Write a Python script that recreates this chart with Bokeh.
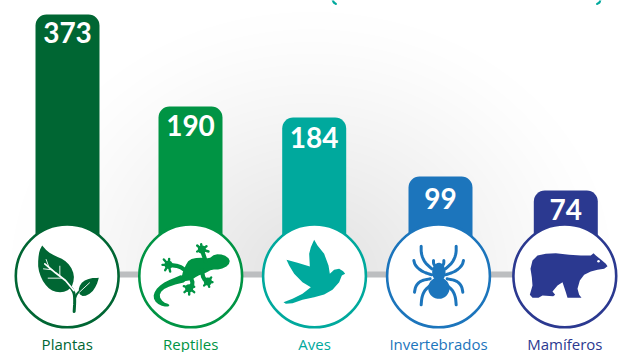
import numpy as np
from bokeh.plotting import figure
from bokeh.models import Range1d, ColumnDataSource
from bokeh.core.properties import value
from bokeh.embed import file_html
from bokeh.resources import INLINE

categories = ["Plantas", "Reptiles", "Aves", "Invertebrados", "Mamíferos"]
species = [373, 190, 184, 99, 74]
drawn_heights = [260, 168, 157, 98, 84]   # bar height above the baseline
colors = ["#006633", "#009444", "#00A99D", "#1C75BC", "#2B3990"]

BASE = 274
bar_x = [67, 190, 313.7, 440, 565.3]
ring_x = [66.7, 190.2, 314, 438, 564.3]
num_offset = [18, 18.5, 20, 21.5, 18.5]

p = figure(width=622, height=352, x_range=Range1d(0, 622), y_range=Range1d(352, 0),
           output_backend="svg", toolbar_location=None, min_border=0)
p.axis.visible = False
p.grid.visible = False
p.outline_line_color = None
p.background_fill_color = "white"
p.border_fill_color = "white"

# background glow above the baseline
W, H = 622, 274
xx, yy = np.meshgrid(np.arange(W) + 0.5, np.arange(H) + 0.5)
r = np.sqrt(((xx - 311) / 300) ** 2 + ((yy - 274) / 262) ** 2)
g = (255 - 30 * np.clip(1 - r, 0, 1) ** 1.25).astype(np.uint32)
img = (255 << 24) | (g << 16) | (g << 8) | g
p.image_rgba(image=[img.astype(np.uint32)], x=0, y=0, dw=W, dh=H)

# baseline
p.segment(x0=[ring_x[0]], x1=[ring_x[-1]], y0=[BASE], y1=[BASE], line_color="#bcbec0", line_width=6)

# bars
tops = [BASE - h for h in drawn_heights]
src = ColumnDataSource(dict(x=bar_x, top=tops, bottom=[BASE + 5] * 5, c=colors))
p.vbar(x="x", width=64, top="top", bottom="bottom", fill_color="c", line_color=None, border_radius=(11, 11, 0, 0), source=src)

# value labels
p.text(x=bar_x, y=[t + o for t, o in zip(tops, num_offset)], text=[str(v) for v in species],
       text_color="white", text_font=value("Lato"), text_font_style="bold", text_font_size="28px",
       text_align="center", text_baseline="middle")

# rings
p.circle(x=ring_x, y=[275.4] * 5, radius=51.4, fill_color="white", line_color=colors, line_width=2.6)

# category labels
p.text(x=ring_x, y=[343.5] * 5, text=categories, text_color=colors, text_font=value("Open Sans"),
       text_font_size="15px", text_align="center", text_baseline="middle")


def chaikin(pts, n=2, closed=False):
    pts = np.array(pts, float)
    for _ in range(n):
        a = pts if closed else pts[:-1]
        b = np.roll(pts, -1, axis=0) if closed else pts[1:]
        q = np.empty((2 * len(a), 2))
        q[0::2] = 0.75 * a + 0.25 * b
        q[1::2] = 0.25 * a + 0.75 * b
        pts = q if closed else np.vstack([pts[0], q, pts[-1]])
    return pts


def poly(origin, pts, color, smooth=0):
    pts = np.array(pts, float)
    if smooth:
        pts = chaikin(pts, smooth, closed=True)
    p.patch(origin[0] + pts[:, 0] / 3, origin[1] + pts[:, 1] / 3, fill_color=color, line_color=None)


def stroke(origin, pts, color, w, smooth=2):
    pts = chaikin(pts, smooth) if smooth else np.array(pts, float)
    p.line(origin[0] + pts[:, 0] / 3, origin[1] + pts[:, 1] / 3, line_color=color, line_width=w,
           line_cap="round", line_join="round")


# cropped ends of the title's brackets at the very top edge
stroke((0, 0), [(996, -3), (1000, 6), (1006, 10)], colors[2], 2.2, 0)
stroke((0, 0), [(1800, -3), (1797, 6), (1790, 10)], colors[2], 2.2, 0)

# leaf
o = (25, 235); c = colors[0]
poly(o, [(50, 30), (50, 30), (50, 30), (66, 48), (90, 62), (115, 72), (135, 92), (146, 118), (143, 145), (132, 162),
         (110, 171), (85, 168), (65, 155), (48, 130), (38, 100), (38, 70), (42, 45)], c, 1)
poly(o, [(220, 127), (220, 127), (195, 128), (172, 137), (160, 155), (160, 175), (175, 184), (198, 172), (213, 150)], c, 1)
stroke(o, [(130, 148), (146, 170), (148, 195), (146, 228)], c, 3.0)
stroke(o, [(148, 190), (155, 172), (178, 155)], c, 2.0)
stroke(o, [(58, 85), (90, 112), (120, 135), (145, 165)], "white", 1.8, 0)
for v in ([(62, 72), (72, 100)], [(103, 92), (103, 122)], [(68, 128), (108, 128)], [(54, 100), (80, 103)], [(162, 170), (192, 142)]):
    stroke(o, v, "white", 0.9, 0)

# gecko
o = (148, 235); c = colors[1]
poly(o, [(100, 118), (110, 92), (122, 72), (150, 66), (180, 70), (200, 56), (225, 57), (245, 72), (240, 90), (215, 102),
         (190, 102), (172, 112), (145, 122), (128, 134), (100, 138)], c, 1)
poly(o, [(105, 116), (70, 130), (40, 145), (20, 165), (14, 185), (24, 203), (45, 213), (62, 213), (62, 206), (44, 200),
         (32, 182), (40, 164), (68, 150), (118, 138)], c, 1)
legs_g = [[(112, 105), (92, 92), (60, 88)], [(125, 122), (134, 145), (122, 158)],
          [(172, 78), (165, 58), (160, 42)], [(160, 105), (165, 130), (178, 138)]]
for leg in legs_g:
    stroke(o, leg, c, 4.2, 1)
feet = [((60, 88), [(42, 88), (46, 72), (62, 70), (50, 104), (65, 108)]),
        ((122, 158), [(106, 152), (108, 170), (122, 177), (137, 170), (137, 154)]),
        ((160, 42), [(146, 30), (158, 26), (174, 32), (180, 48), (146, 48)]),
        ((178, 138), [(166, 128), (167, 150), (182, 154), (192, 140), (188, 126)])]
for ctr, toes in feet:
    p.scatter(x=[o[0] + ctr[0] / 3], y=[o[1] + ctr[1] / 3], size=8, color=c, line_color=None)
    for t in toes:
        stroke(o, [ctr, t], c, 2.4, 0)

# bird
o = (272, 230); c = colors[2]
poly(o, [(33, 215), (60, 205), (90, 190), (115, 170), (90, 155), (65, 130), (50, 105), (42, 88), (75, 97), (112, 108),
         (110, 70), (115, 50), (125, 28), (135, 45), (155, 70), (168, 105), (172, 130), (185, 118), (200, 115), (212, 122),
         (218, 130), (208, 135), (200, 155), (180, 178), (155, 192), (125, 200), (90, 208), (60, 218), (40, 220)], c)

# spider
o = (398, 235); c = colors[3]
mx = 120
legs = [[(100, 100), (78, 80), (68, 55), (68, 32)],
        [(100, 118), (70, 108), (50, 90), (46, 75)],
        [(95, 130), (68, 135), (52, 150), (48, 170)],
        [(95, 150), (78, 165), (70, 185), (68, 208)],
        [(105, 75), (105, 85), (110, 92)]]
for leg in legs:
    stroke(o, leg, c, 3.0)
    stroke(o, [(2 * mx - a + 1, b) for a, b in leg], c, 3.0)
t = np.linspace(0, 2 * np.pi, 60)
poly(o, np.c_[mx + 1 + 32 * np.cos(t), 158 + 32 * np.sin(t)], c)
poly(o, np.c_[mx + 1 + 20 * np.cos(t), 110 + 28 * np.sin(t)], c)

# bear
o = (522, 235); c = colors[4]
poly(o, [(255, 92), (245, 100), (225, 103), (205, 108), (185, 118), (172, 135), (165, 160), (170, 178), (177, 187),
         (135, 187), (130, 170), (120, 140), (105, 150), (90, 168), (98, 178), (92, 182), (60, 180), (48, 187), (30, 187),
         (22, 178), (30, 150), (28, 125), (24, 100), (30, 75), (45, 60), (70, 55), (100, 53), (140, 58), (175, 60), (205, 60),
         (213, 53), (220, 60), (235, 72), (250, 85)], c)
p.scatter(x=[522 + 228 / 3], y=[235 + 77 / 3], size=2.5, color="white", line_color=None)

open("out.html", "w").write(file_html(p, INLINE))
